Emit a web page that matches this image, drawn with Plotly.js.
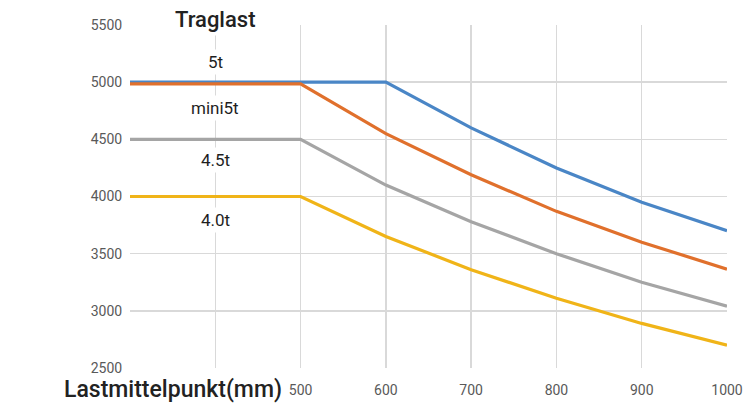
<!DOCTYPE html>
<html><head><meta charset="utf-8">
<script src="https://cdn.plot.ly/plotly-3.0.1.min.js"></script>
<style>html,body{margin:0;padding:0;background:#fff}#chart{width:748px;height:409px}</style>
</head><body><div id="chart"></div>
<script>
const xValues = [300, 400, 500, 600, 700, 800, 900, 1000];
const seriesNames = ["5t", "mini5t", "4.5t", "4.0t"];
const load5t     = [5000, 5000, 5000, 5000, 4600, 4250, 3950, 3700];
const loadMini5t = [4985, 4985, 4985, 4550, 4190, 3870, 3600, 3365];
const load45t    = [4500, 4500, 4500, 4100, 3780, 3500, 3250, 3040];
const load40t    = [4000, 4000, 4000, 3650, 3360, 3110, 2890, 2700];
const xTickVals = [300, 400, 500, 600, 700, 800, 900, 1000];
const xTickText = ["", "", "500", "600", "700", "800", "900", "1000"];
const yTickVals = [2500, 3000, 3500, 4000, 4500, 5000, 5500];
const colors = ["#4a86c6", "#e0702c", "#a5a5a5", "#f0b418"];
const allSeries = [load5t, loadMini5t, load45t, load40t];

const traces = allSeries.map((ys, i) => ({
  x: xValues, y: ys, name: seriesNames[i], type: "scatter", mode: "lines",
  line: {color: colors[i], width: 3.2, shape: "linear"}, hoverinfo: "skip"
}));

const labelFont = {family: "Roboto, 'DejaVu Sans', sans-serif", size: 17, color: "#1e1e1e"};
const annotations = [
  {x: 400, y: 5175, text: "5t", font: labelFont},
  {x: 400, y: 4773, text: "mini5t", font: labelFont},
  {x: 400, y: 4318, text: "4.5t", font: labelFont},
  {x: 400, y: 3794, text: "4.0t", font: labelFont}
].map(a => Object.assign({xref: "x", yref: "y", showarrow: false, bgcolor: "#ffffff", xanchor: "center", yanchor: "middle", borderpad: 2}, a));

annotations.push({
  xref: "x", yref: "paper", x: 400, y: 1.015, xanchor: "center", yanchor: "middle",
  showarrow: false, text: "Traglast", bgcolor: "#ffffff", borderpad: 3,
  font: {family: "Roboto, sans-serif", size: 22, color: "#222", weight: 500}
});
annotations.push({
  xref: "paper", yref: "paper", x: 0.258, y: -0.064, xanchor: "right", yanchor: "middle",
  showarrow: false, text: "Lastmittelpunkt(mm)",
  font: {family: "Roboto, sans-serif", size: 23, color: "#222", weight: 500}
});

const layout = {
  width: 748, height: 409,
  margin: {l: 130, r: 21, t: 25, b: 41},
  paper_bgcolor: "#fff", plot_bgcolor: "#fff",
  showlegend: false,
  xaxis: {range: [300, 1000], tickvals: xTickVals, ticktext: xTickText,
    showgrid: true, gridcolor: "#d9d9d9", gridwidth: 1.5, zeroline: false,
    showline: false, ticks: "outside", ticklen: 9, tickcolor: "rgba(0,0,0,0)",
    tickfont: {family: "Roboto, sans-serif", size: 14, color: "#595959"}},
  yaxis: {range: [2500, 5500], tickvals: yTickVals,
    showgrid: true, gridcolor: "#d9d9d9", gridwidth: 1.5, zeroline: false,
    showline: false, ticks: "outside", ticklen: 4, tickcolor: "rgba(0,0,0,0)",
    tickfont: {family: "Roboto, sans-serif", size: 14, color: "#595959"}},
  annotations: annotations
};
Plotly.newPlot("chart", traces, layout, {displayModeBar: false, staticPlot: true});
</script></body></html>
